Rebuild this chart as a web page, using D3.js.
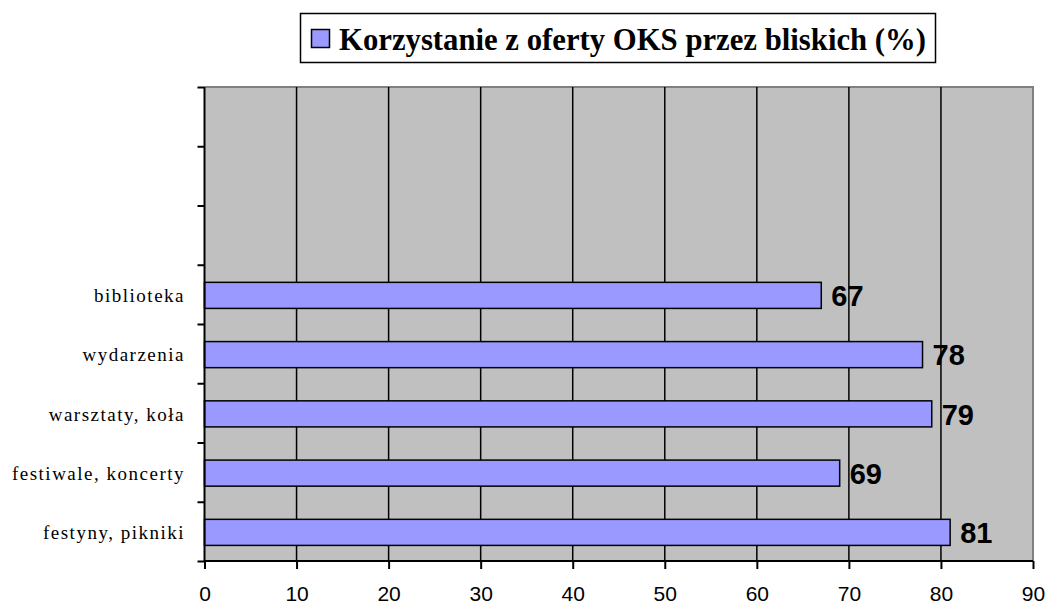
<!DOCTYPE html>
<html><head><meta charset="utf-8">
<script src="https://cdn.jsdelivr.net/npm/d3@7"></script>
<style>body{margin:0;background:#fff}</style>
</head><body><svg id="c" width="1049" height="609"></svg>
<script>
const categories = ["biblioteka", "wydarzenia", "warsztaty, koła", "festiwale, koncerty", "festyny, pikniki"];
const values = [67, 78, 79, 69, 81];
const emptySlots = 3;
const xTicks = [0, 10, 20, 30, 40, 50, 60, 70, 80, 90];
const seriesName = "Korzystanie z oferty OKS przez bliskich (%)";

const svg = d3.select("#c");
const L = 204.5, R = 1033, T = 87, B = 561;
const x = d3.scaleLinear().domain([0, 90]).range([L, R]);
const slots = d3.range(emptySlots + categories.length);
const y = d3.scaleBand().domain(slots).range([T, B]).paddingInner(0.56).paddingOuter(0.28);
const yEdge = d3.scaleLinear().domain([0, slots.length]).range([T, B]);

// plot background
svg.append("rect").attr("x", L).attr("y", T).attr("width", R - L).attr("height", B - T).attr("fill", "#c0c0c0");
svg.append("path").attr("d", `M${L},${T}H${R}V${B}`).attr("fill", "none").attr("stroke", "#808080").attr("stroke-width", 2);

// gridlines
svg.append("g").selectAll("line").data(xTicks.slice(1, -1)).join("line")
  .attr("x1", d => x(d)).attr("x2", d => x(d)).attr("y1", T).attr("y2", B)
  .attr("stroke", "#000").attr("stroke-width", 1.5);

// bars
const data = categories.map((c, i) => ({c, v: values[i], s: emptySlots + i}));
svg.append("g").selectAll("rect").data(data).join("rect")
  .attr("x", x(0)).attr("y", d => y(d.s) + 1).attr("width", d => x(d.v) - x(0)).attr("height", y.bandwidth())
  .attr("fill", "#9999ff").attr("stroke", "#000").attr("stroke-width", 1.5);

// value labels
svg.append("g").selectAll("text").data(data).join("text")
  .attr("x", d => x(d.v) + 10).attr("y", d => y(d.s) + y.bandwidth() / 2 + 1)
  .attr("dy", "0.37em")
  .attr("font-family", "Liberation Sans, Arial, sans-serif").attr("font-weight", "bold").attr("font-size", 29)
  .text(d => d.v);

// category labels
svg.append("g").selectAll("text").data(data).join("text")
  .attr("x", 185).attr("y", d => y(d.s) + y.bandwidth() / 2 + 1).attr("dy", "0.35em")
  .attr("text-anchor", "end")
  .attr("font-family", "Liberation Serif, Times New Roman, serif").attr("font-size", 19)
  .attr("letter-spacing", "1.5px")
  .text(d => d.c);

// x axis
const xa = svg.append("g").attr("transform", `translate(0,${B})`)
  .call(d3.axisBottom(x).tickValues(xTicks).tickSize(8).tickPadding(17).tickFormat(d3.format("d")));
xa.select(".domain").attr("stroke", "#000").attr("stroke-width", 2).attr("d", `M${L},0H${R}`);
xa.selectAll(".tick line").attr("stroke", "#000").attr("stroke-width", 2);
xa.selectAll(".tick text").attr("font-family", "Liberation Sans, Arial, sans-serif").attr("font-size", 21).attr("fill", "#000");

// y axis (edges)
const ya = svg.append("g").attr("transform", `translate(${L},0)`)
  .call(d3.axisLeft(yEdge).tickValues(d3.range(slots.length + 1)).tickSize(7).tickFormat(""));
ya.select(".domain").attr("stroke", "#000").attr("stroke-width", 2).attr("d", `M0,${T}V${B}`);
ya.selectAll(".tick line").attr("stroke", "#000").attr("stroke-width", 2);

// legend
const lg = svg.append("g");
lg.append("rect").attr("x", 300.5).attr("y", 13.5).attr("width", 635).attr("height", 49)
  .attr("fill", "#fff").attr("stroke", "#000").attr("stroke-width", 1.5);
lg.append("rect").attr("x", 311.5).attr("y", 29.5).attr("width", 18).attr("height", 18)
  .attr("fill", "#9999ff").attr("stroke", "#000").attr("stroke-width", 1.5);
lg.append("text").attr("x", 339).attr("y", 50)
  .attr("font-family", "Liberation Serif, Times New Roman, serif").attr("font-weight", "bold").attr("font-size", 32)
  .attr("textLength", 587).attr("lengthAdjust", "spacingAndGlyphs")
  .text(seriesName);
</script></body></html>
